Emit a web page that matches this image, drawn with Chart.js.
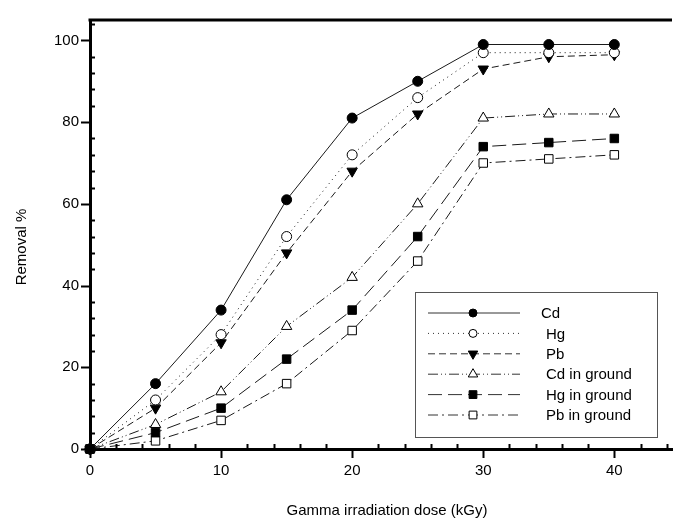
<!DOCTYPE html>
<html>
<head>
<meta charset="utf-8">
<title>Removal % vs gamma irradiation dose</title>
<script src="https://cdn.jsdelivr.net/npm/chart.js@4.4.1/dist/chart.umd.min.js"></script>
<style>
  html, body { margin: 0; padding: 0; background: #fff; }
  #wrap { width: 679px; height: 523px; position: relative; }
</style>
</head>
<body>
<div id="wrap"><canvas id="chart"></canvas></div>
<script>
// dosis (kGy)
const doses = [0, 5, 10, 15, 20, 25, 30, 35, 40];

// % de remoción
const cd = [0, 16, 34, 61, 81, 90, 99, 99, 99];
const hg = [0, 12, 28, 52, 72, 86, 97, 97, 97];
const pb = [0, 10, 26, 48, 68, 82, 93, 96, 96.5];
const cdGround = [0, 6, 14, 30, 42, 60, 81, 82, 82];
const hgGround = [0, 4, 10, 22, 34, 52, 74, 75, 76];
const pbGround = [0, 2, 7, 16, 29, 46, 70, 71, 72];

const seriesNames = ['Cd', 'Hg', 'Pb', 'Cd in ground', 'Hg in ground', 'Pb in ground'];

const xTicks = [0, 10, 20, 30, 40];
const yTicks = [0, 20, 40, 60, 80, 100];

const FONT = '"Liberation Sans", Arial, sans-serif';
const INK = '#1a1a1a';

const toPoints = (vals) => doses.map((d, i) => ({ x: d, y: vals[i] }));

const mkSet = (label, vals, dash, style, filled, rotation) => ({
    label: label,
    data: toPoints(vals),
    borderColor: INK,
    borderWidth: 1,
    borderDash: dash,
    pointStyle: style,
    pointRotation: rotation || 0,
    pointRadius: style === 'circle' ? 5 : 6,
    pointBorderWidth: 1,
    pointBorderColor: '#000',
    pointBackgroundColor: filled ? '#000' : '#fff',
    tension: 0,
    clip: false
});

const datasets = [
    mkSet(seriesNames[0], cd, [], 'circle', true),
    mkSet(seriesNames[1], hg, [1, 4], 'circle', false),
    mkSet(seriesNames[2], pb, [7, 4], 'triangle', true, 180),
    mkSet(seriesNames[3], cdGround, [10, 3, 1, 3, 1, 3], 'triangle', false),
    mkSet(seriesNames[4], hgGround, [14, 6], 'rect', true),
    mkSet(seriesNames[5], pbGround, [10, 4, 2, 4], 'rect', false)
];

// Ticks mayores hacia fuera, menores hacia dentro, marco superior, títulos y leyenda
const decorPlugin = {
    id: 'decor',
    afterDraw(chart) {
        const ctx = chart.ctx;
        const area = chart.chartArea;
        const xs = chart.scales.x;
        const ys = chart.scales.y;
        ctx.save();
        ctx.strokeStyle = '#000';

        // marco superior
        ctx.lineWidth = 3;
        ctx.beginPath();
        ctx.moveTo(area.left - 1.5, area.top);
        ctx.lineTo(area.right, area.top);
        ctx.stroke();

        ctx.lineWidth = 2;
        // eje y
        for (let v = 0; v <= 104; v += 4) {
            const py = Math.round(ys.getPixelForValue(v)) + 0.5;
            ctx.beginPath();
            if (v % 20 === 0) {
                ctx.moveTo(area.left - 9, py);
                ctx.lineTo(area.left, py);
            } else {
                ctx.moveTo(area.left, py);
                ctx.lineTo(area.left + 5, py);
            }
            ctx.stroke();
        }
        // eje x
        for (let v = 0; v <= 44; v += 2) {
            const px = Math.round(xs.getPixelForValue(v)) + 0.5;
            ctx.beginPath();
            if (v % 10 === 0) {
                ctx.moveTo(px, area.bottom);
                ctx.lineTo(px, area.bottom + 9);
            } else {
                ctx.moveTo(px, area.bottom);
                ctx.lineTo(px, area.bottom - 5);
            }
            ctx.stroke();
        }

        // títulos de ejes
        ctx.fillStyle = '#000';
        ctx.font = '15px ' + FONT;
        ctx.textAlign = 'center';
        ctx.textBaseline = 'middle';
        ctx.fillText('Gamma irradiation dose (kGy)', 387, 511);
        ctx.save();
        ctx.translate(22, 247);
        ctx.rotate(-Math.PI / 2);
        ctx.fillText('Removal %', 0, 0);
        ctx.restore();

        // leyenda
        const box = { x: 415.5, y: 292.5, w: 242, h: 145 };
        ctx.lineWidth = 1;
        ctx.strokeStyle = '#555';
        ctx.fillStyle = '#fff';
        ctx.fillRect(box.x, box.y, box.w, box.h);
        ctx.strokeRect(box.x, box.y, box.w, box.h);

        ctx.font = '15px ' + FONT;
        ctx.textAlign = 'left';
        chart.data.datasets.forEach((ds, i) => {
            const ly = 313 + i * 20.4;
            ctx.strokeStyle = '#333';
            ctx.lineWidth = 1;
            ctx.setLineDash(ds.borderDash);
            ctx.beginPath();
            ctx.moveTo(428, ly);
            ctx.lineTo(520, ly);
            ctx.stroke();
            ctx.setLineDash([]);
            ctx.fillStyle = ds.pointBackgroundColor;
            ctx.strokeStyle = '#000';
            Chart.helpers.drawPoint(ctx, {
                pointStyle: ds.pointStyle,
                radius: ds.pointStyle === 'circle' ? 4 : 5.5,
                rotation: ds.pointRotation,
                borderWidth: 1
            }, 473, ly);
            ctx.fillStyle = '#000';
            ctx.fillText(ds.label, i === 0 ? 541 : 546, ly + 1);
        });
        ctx.restore();
    }
};

new Chart(document.getElementById('chart'), {
    type: 'line',
    data: { datasets: datasets },
    plugins: [decorPlugin],
    options: {
        responsive: true,
        maintainAspectRatio: false,
        animation: false,
        layout: { padding: { top: 18, right: 0, left: 0, bottom: 0 } },
        plugins: {
            legend: { display: false },
            title: { display: false },
            tooltip: { enabled: false }
        },
        scales: {
            x: {
                type: 'linear',
                min: 0,
                max: 44.4,
                afterBuildTicks: (s) => { s.ticks = xTicks.map(v => ({ value: v })); },
                afterFit: (s) => { s.height = 74; },
                grid: { display: true, drawOnChartArea: false, drawTicks: false },
                border: { display: true, color: '#000', width: 3 },
                ticks: { color: '#000', padding: 13, font: { family: FONT, size: 15 } }
            },
            y: {
                type: 'linear',
                min: 0,
                max: 105,
                afterBuildTicks: (s) => { s.ticks = yTicks.map(v => ({ value: v })); },
                afterFit: (s) => { s.width = 90; },
                grid: { display: true, drawOnChartArea: false, drawTicks: false },
                border: { display: true, color: '#000', width: 3 },
                ticks: { color: '#000', padding: 11, font: { family: FONT, size: 15 } }
            }
        }
    }
});
</script>
</body>
</html>
